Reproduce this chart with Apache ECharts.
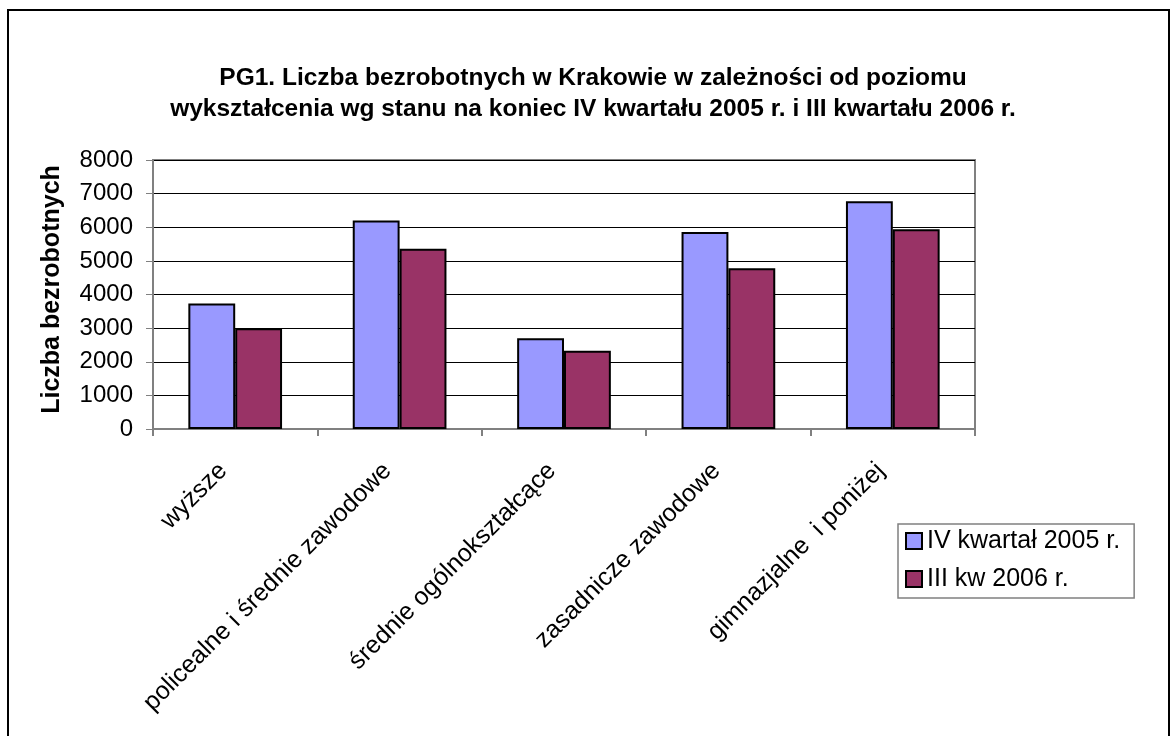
<!DOCTYPE html>
<html>
<head>
<meta charset="utf-8">
<script src="https://cdn.jsdelivr.net/npm/echarts@6/dist/echarts.min.js"></script>
<style>
  html, body { margin: 0; padding: 0; background: #fff; }
  #chart { width: 1174px; height: 736px; }
</style>
</head>
<body>
<div id="chart"></div>
<script>
// poziomy wykształcenia
const categories = [
  'wyższe',
  'policealne i średnie zawodowe',
  'średnie ogólnokształcące',
  'zasadnicze zawodowe',
  'gimnazjalne  i poniżej'
];
const seriesNames = ['IV kwartał 2005 r.', 'III kw 2006 r.'];
const kw4_2005 = [3730, 6200, 2700, 5860, 6775];
const kw3_2006 = [3000, 5360, 2330, 4780, 5940];
const yTicks = { min: 0, max: 8000, interval: 1000 };

const FONT = '"Liberation Sans", Arial, sans-serif';

const myChart = echarts.init(document.getElementById('chart'));

const option = {
  backgroundColor: '#fff',
  animation: false,
  title: {
    text: 'PG1. Liczba bezrobotnych w Krakowie w zależności od poziomu\nwykształcenia wg stanu na koniec IV kwartału 2005 r. i III kwartału 2006 r.',
    left: 588,
    top: 58,
    textAlign: 'center',
    textStyle: {
      fontFamily: FONT,
      fontSize: 24.5,
      fontWeight: 'bold',
      color: '#000',
      lineHeight: 31
    }
  },
  legend: {
    orient: 'vertical',
    left: 898,
    top: 524,
    padding: [4, 14, 6, 7],
    itemGap: 12,
    itemWidth: 16,
    itemHeight: 16,
    borderColor: '#808080',
    borderWidth: 1.5,
    backgroundColor: '#fff',
    icon: 'rect',
    textStyle: { fontFamily: FONT, fontSize: 25, color: '#000', lineHeight: 26 },
    data: seriesNames
  },
  grid: {
    left: 153,
    right: 1174 - 975,
    top: 160,
    bottom: 736 - 429,
    show: true,
    borderColor: '#808080',
    borderWidth: 2
  },
  xAxis: {
    type: 'category',
    data: categories,
    axisLine: { lineStyle: { color: '#808080', width: 2 } },
    axisTick: { show: true, length: 7, lineStyle: { color: '#808080', width: 2 } },
    axisLabel: {
      rotate: 45,
      interval: 0,
      margin: 26,
      padding: [0, 17, 0, 0],
      fontFamily: FONT,
      fontSize: 25,
      color: '#000'
    }
  },
  yAxis: {
    type: 'value',
    min: yTicks.min,
    max: yTicks.max,
    interval: yTicks.interval,
    name: 'Liczba bezrobotnych',
    nameLocation: 'middle',
    nameGap: 88,
    nameTextStyle: {
      fontFamily: FONT,
      fontSize: 25,
      fontWeight: 'bold',
      color: '#000',
      padding: [0, 0, 0, 10]
    },
    axisLine: { show: true, lineStyle: { color: '#808080', width: 2 } },
    axisTick: { show: true, length: 7, lineStyle: { color: '#808080', width: 1 } },
    axisLabel: {
      fontFamily: FONT,
      fontSize: 24,
      color: '#000',
      margin: 20,
      formatter: (v) => String(v)
    },
    splitLine: { show: true, lineStyle: { color: '#000', width: 1 } }
  },
  series: [
    {
      name: seriesNames[0],
      type: 'bar',
      data: kw4_2005,
      barGap: '0%',
      barCategoryGap: '43%',
      itemStyle: { color: '#9999FF', borderColor: '#000', borderWidth: 2 }
    },
    {
      name: seriesNames[1],
      type: 'bar',
      data: kw3_2006,
      itemStyle: { color: '#993366', borderColor: '#000', borderWidth: 2 }
    }
  ],
  graphic: [
    {
      type: 'rect',
      shape: { x: 8, y: 10, width: 1161, height: 740 },
      style: { fill: null, stroke: '#000', lineWidth: 2 },
      silent: true
    }
  ]
};

myChart.setOption(option);
window.addEventListener('resize', () => {
  myChart.resize();
});
</script>
</body>
</html>
